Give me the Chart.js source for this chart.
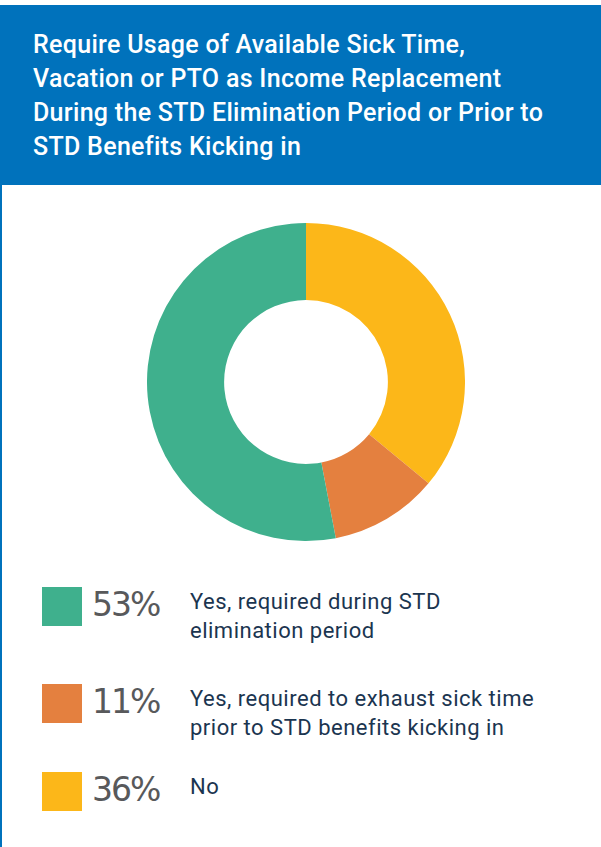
<!DOCTYPE html>
<html>
<head>
<meta charset="utf-8">
<script src="https://cdn.jsdelivr.net/npm/chart.js@4"></script>
<style>
  html, body { margin: 0; padding: 0; background: #fff; }
  body { width: 601px; height: 847px; position: relative; overflow: hidden; font-family: Roboto, sans-serif; }
  .side { position: absolute; left: 0; top: 185px; width: 2px; height: 662px; background: #0072bc; }
  .header { position: absolute; left: 0; top: 5px; width: 601px; height: 180px; background: #0072bc; }
  .header h1 { margin: 0; position: absolute; left: 33px; top: 23px; color: #fff; font-size: 25px; font-weight: 500; line-height: 34px; letter-spacing: 0.3px; }
  .chart-box { position: absolute; left: 147px; top: 223px; width: 318px; height: 318px; }
  .legend-row { position: absolute; left: 42px; display: flex; align-items: flex-start; }
  .swatch { width: 40px; height: 39px; }
  .pct { position: absolute; left: 50px; top: -2px; font-family: "DejaVu Sans", sans-serif; font-size: 33px; color: #58595b; letter-spacing: -2px; }
  .lbl { position: absolute; left: 148px; top: 0; width: 400px; font-size: 22px; line-height: 29px; color: #1b3550; letter-spacing: 0.5px; }
</style>
</head>
<body>
<div class="header"><h1>Require Usage of Available Sick Time,<br>Vacation or PTO as Income Replacement<br>During the STD Elimination Period or Prior to<br>STD Benefits Kicking in</h1></div>
<div class="side"></div>
<div class="chart-box"><canvas id="donut"></canvas></div>
<div id="legend"></div>
<script>
const categories = [
  'Yes, required during STD<br>elimination period',
  'Yes, required to exhaust sick time<br>prior to STD benefits kicking in',
  'No'
];
const shares = [53, 11, 36];
const colors = ['#3fb08d', '#e4803f', '#fcb719'];
const legendTops = [587, 684, 772];

// the ring runs clockwise from the top: No, then 11%, then 53%
const order = [2, 1, 0];
new Chart(document.getElementById('donut'), {
  type: 'doughnut',
  data: {
    labels: order.map(i => categories[i].replace('<br>', ' ')),
    datasets: [{
      data: order.map(i => shares[i]),
      backgroundColor: order.map(i => colors[i]),
      borderWidth: 0
    }]
  },
  options: {
    responsive: true,
    maintainAspectRatio: false,
    animation: false,
    cutout: '51.5%',
    layout: { padding: 0 },
    plugins: { legend: { display: false }, tooltip: { enabled: false } }
  }
});

const legend = document.getElementById('legend');
categories.forEach((c, i) => {
  const row = document.createElement('div');
  row.className = 'legend-row';
  row.style.top = legendTops[i] + 'px';
  row.innerHTML = '<div class="swatch" style="background:' + colors[i] + '"></div>' +
    '<div class="pct">' + shares[i] + '%</div>' +
    '<div class="lbl">' + c + '</div>';
  legend.appendChild(row);
});
</script>
</body>
</html>
